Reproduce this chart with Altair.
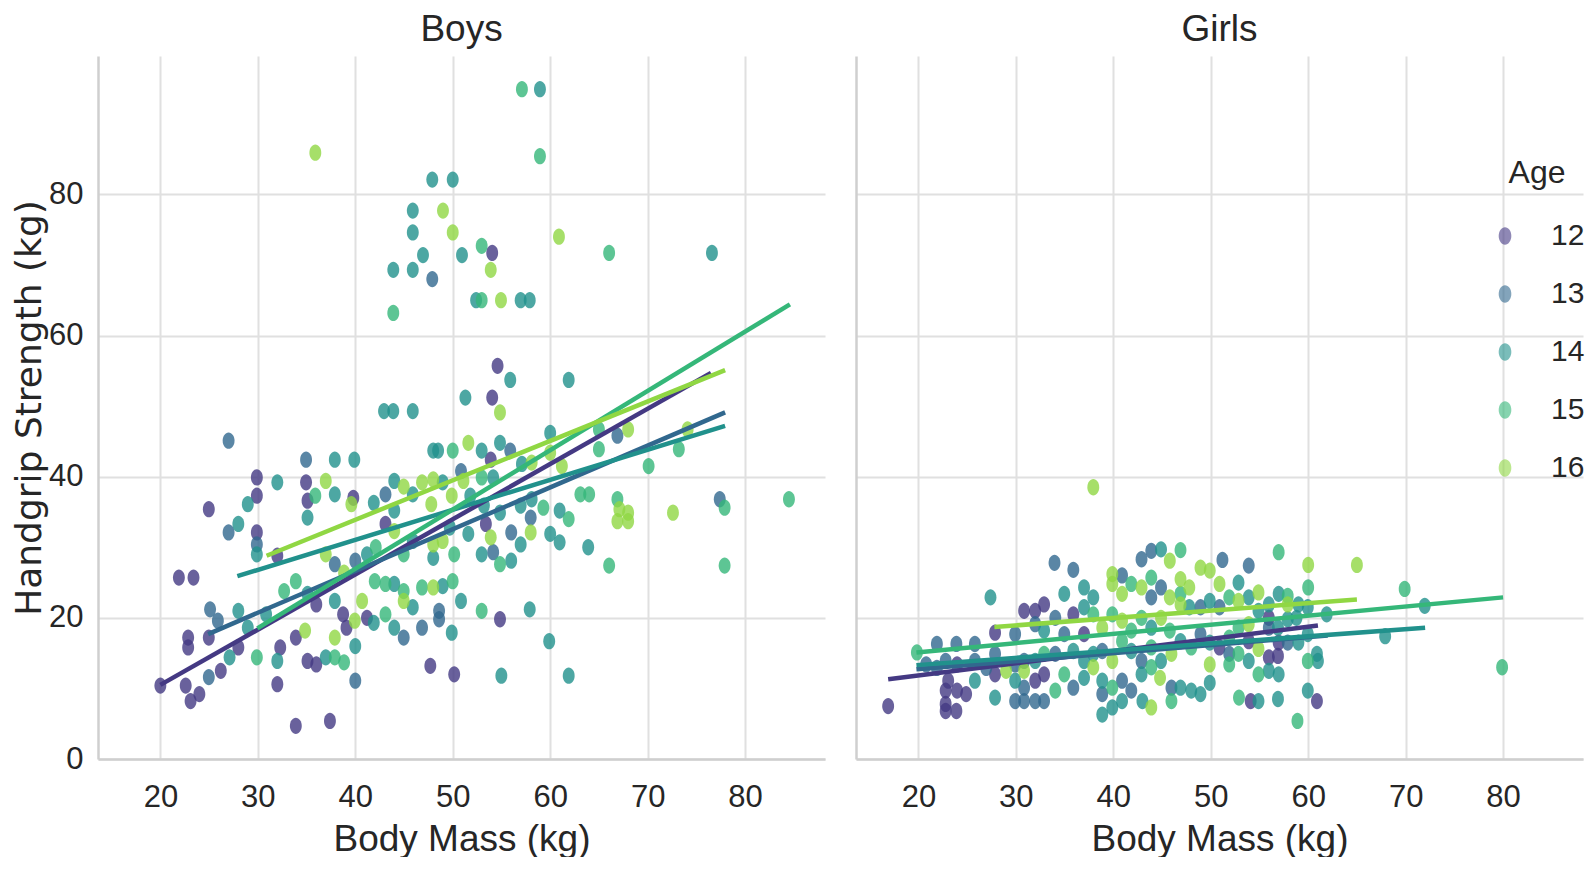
import altair as alt
import pandas as pd

AGES = [12, 13, 14, 15, 16]
PALETTE = ["#443983", "#31688e", "#21918c", "#35b779", "#90d743"]
X_TICKS = [20, 30, 40, 50, 60, 70, 80]
Y_TICKS = [0, 20, 40, 60, 80]
PANELS = ["Boys", "Girls"]

# ---- scatter points: [body mass, handgrip] per age ----
boys_12 = [[54.05,71.7],[54.6,55.7],[54.05,51.2],[53.9,42.4],[29.9,39.9],[34.95,39.2],[29.9,37.3],[39.8,37.0],
           [35.1,36.6],[24.97,35.4],[29.9,32.1],[32.0,28.8],[43.1,33.3],[53.4,33.3],[21.9,25.7],[23.4,25.7],
           [36.0,21.9],[38.75,20.5],[41.2,20.0],[54.85,19.8],[39.1,18.6],[35.1,13.9],[36.0,13.4],[33.9,17.2],
           [32.3,15.8],[32.0,10.6],[28.0,15.8],[26.2,12.5],[22.85,17.2],[22.85,15.8],[24.97,17.2],[20.0,10.4],
           [22.6,10.4],[23.1,8.2],[24.0,9.2],[33.9,4.7],[37.4,5.4],[47.7,13.2],[50.15,12.0]]
boys_13 = [[47.9,68.0],[27.0,45.1],[66.9,45.8],[55.9,43.7],[34.95,42.4],[50.85,40.8],[43.1,37.5],[77.4,36.8],
           [27.0,32.1],[29.9,30.4],[37.9,27.6],[40.0,28.1],[54.15,29.3],[56.0,32.1],[58.0,34.2],[25.1,21.2],
           [25.9,19.6],[48.6,19.8],[46.85,18.6],[44.97,17.2],[24.97,11.6],[40.0,11.1],[48.6,21.0]]
boys_14 = [[58.95,94.9],[47.9,82.1],[50.0,82.1],[45.9,77.7],[45.9,74.6],[46.95,71.4],[50.95,71.4],[76.6,71.7],
           [43.9,69.3],[45.9,69.3],[52.4,65.0],[56.97,65.0],[57.9,65.0],[55.9,53.7],[61.9,53.7],[51.3,51.2],
           [42.95,49.3],[43.9,49.3],[45.9,49.3],[60.0,46.2],[48.0,43.7],[48.5,43.7],[52.97,43.7],[54.85,44.8],
           [37.9,42.4],[39.9,42.4],[32.0,39.2],[44.0,39.4],[48.97,39.2],[54.15,39.9],[57.1,41.8],[28.97,36.1],
           [37.9,37.5],[41.9,36.3],[44.0,35.2],[45.9,37.5],[51.8,37.3],[53.2,35.9],[54.85,34.9],[56.97,35.9],
           [58.1,36.8],[60.97,35.2],[63.9,30.0],[28.0,33.3],[29.9,29.0],[35.1,34.2],[41.2,29.0],[45.9,30.9],
           [48.0,28.5],[49.7,32.8],[51.6,31.9],[52.97,29.0],[56.0,28.1],[56.97,30.4],[60.0,31.9],[60.97,30.7],
           [28.0,21.0],[28.97,18.6],[30.85,20.5],[35.1,23.4],[37.9,22.4],[44.0,24.8],[45.9,21.5],[48.97,24.5],
           [50.85,22.4],[57.9,21.2],[44.0,18.6],[41.9,19.3],[40.0,16.0],[36.97,14.4],[32.0,13.9],[27.1,14.4],
           [54.99,11.8],[61.9,11.8],[59.9,16.7],[49.9,17.9]]
boys_15 = [[57.1,94.9],[58.95,85.4],[52.97,72.7],[66.05,71.7],[52.97,65.0],[43.9,63.2],[65.0,46.7],[65.0,43.9],
           [73.2,43.9],[70.1,41.5],[50.0,43.7],[52.97,39.9],[35.9,37.3],[59.3,35.6],[61.9,34.0],[63.1,37.5],
           [64.0,37.5],[66.9,36.8],[77.9,35.6],[84.5,36.8],[77.9,27.4],[66.05,27.4],[42.1,30.0],[44.97,29.0],
           [50.15,29.0],[54.85,27.6],[32.7,23.8],[33.9,25.2],[42.0,25.2],[43.1,24.8],[44.97,23.8],[46.85,24.3],
           [49.99,25.2],[52.97,21.0],[43.1,20.5],[37.9,14.4],[38.85,13.7],[29.9,14.4]]
boys_16 = [[35.9,85.9],[49.0,77.7],[50.0,74.6],[60.9,74.0],[53.9,69.3],[54.95,65.0],[54.85,49.1],[68.0,46.7],
           [74.1,46.7],[51.6,44.8],[60.0,43.4],[61.2,41.5],[36.97,39.4],[44.97,38.6],[46.85,39.2],[48.0,39.6],
           [51.1,39.4],[58.1,42.0],[39.6,36.1],[47.8,36.1],[49.9,37.3],[67.1,35.4],[68.0,34.9],[66.9,33.7],
           [68.0,33.7],[72.6,34.9],[36.97,29.0],[38.85,26.4],[44.0,32.3],[48.0,30.4],[48.97,30.9],[53.9,31.4],
           [58.0,32.1],[39.95,19.6],[40.7,22.4],[44.97,22.4],[48.0,24.3],[37.9,17.2],[34.85,18.2]]

girls_12 = [[30.85,21.0],[31.99,21.0],[32.9,21.9],[35.9,20.5],[37.0,17.7],[27.87,17.9],[23.97,13.4],[27.87,12.0],
            [31.99,11.1],[32.9,12.0],[24.9,9.2],[23.97,9.7],[22.8,9.7],[23.06,11.1],[22.8,7.8],[23.9,6.8],
            [22.8,6.8],[16.9,7.5],[53.9,16.7],[50.9,15.8],[55.96,20.0],[56.97,16.5],[55.96,14.4],[56.9,14.6],
            [54.1,8.2],[60.9,8.2]]
girls_13 = [[53.9,27.4],[51.2,28.2],[43.9,29.5],[42.9,28.3],[33.97,27.8],[35.9,26.8],[40.9,26.0],[43.9,22.9],
            [44.9,24.3],[48.95,21.5],[50.9,21.5],[55.96,18.6],[57.9,16.5],[48.95,17.7],[51.9,14.9],[45.97,10.1],
            [41.85,9.7],[38.87,9.2],[35.9,10.1],[32.9,8.2],[31.99,8.2],[30.85,8.2],[29.93,8.2],[30.85,10.1],
            [21.9,16.3],[23.9,16.3],[25.8,16.3],[27.87,14.9],[25.8,13.9],[22.8,13.9],[21.9,12.9],[20.8,13.4],
            [29.93,17.7],[31.99,19.1],[34.05,20.0],[34.97,17.7],[38.87,15.3],[42.9,13.9],[34.05,14.9],[30.85,13.9],
            [29.93,13.4],[26.96,12.9],[40.9,11.1]]
girls_14 = [[44.9,29.7],[27.4,22.9],[52.85,25.0],[56.97,23.4],[59.0,21.9],[61.9,20.5],[61.0,13.9],[59.96,9.7],
            [56.9,8.5],[54.9,8.2],[55.96,12.5],[56.97,12.0],[49.9,10.8],[48.95,9.2],[48.0,9.7],[46.9,10.1],
            [42.99,8.2],[40.9,8.2],[39.9,7.3],[38.87,6.3],[37.0,11.5],[29.93,11.1],[27.87,8.7],[25.8,11.1],
            [32.9,18.2],[34.97,23.4],[37.0,24.3],[37.0,21.5],[37.95,22.9],[47.8,21.5],[49.9,22.4],[53.9,22.9],
            [54.9,21.0],[57.9,19.8],[58.8,20.0],[59.96,21.5],[59.96,17.7],[59.0,16.5],[53.9,13.9],[49.9,16.5],
            [46.9,16.7],[44.9,13.9],[41.85,15.3],[37.95,14.9],[37.0,13.9],[35.9,15.3],[31.99,13.9],[43.9,18.6],
            [38.87,11.1],[42.9,12.0],[60.9,14.9],[56.9,18.6],[55.96,21.9],[71.96,21.7],[67.9,17.4]]
girls_15 = [[69.9,24.1],[79.9,13.0],[60.0,24.3],[56.97,29.3],[46.9,29.6],[57.9,23.1],[59.96,13.9],[58.9,5.4],
            [52.9,8.7],[51.9,13.4],[45.97,8.2],[34.97,12.0],[34.05,9.7],[19.85,15.1],[37.95,20.5],[41.85,24.8],
            [43.9,25.7],[46.9,23.4],[51.9,22.9],[52.85,14.9],[48.0,15.8],[43.9,15.8],[40.9,16.7],[32.9,14.9],
            [39.9,20.5],[41.85,18.2],[42.9,20.0],[45.8,18.2],[39.9,10.1],[43.9,13.0],[54.9,12.0],[51.9,17.2],
            [52.85,18.6]]
girls_16 = [[37.95,38.5],[65.0,27.5],[60.0,27.5],[45.8,28.1],[48.95,27.1],[49.9,26.7],[50.9,24.8],[47.8,24.3],
            [46.9,25.5],[54.9,23.6],[54.9,15.6],[49.9,13.4],[44.8,11.5],[43.9,7.3],[37.95,13.0],[30.85,12.5],
            [38.87,18.6],[39.9,26.2],[39.9,24.8],[40.9,23.4],[42.9,24.3],[45.8,22.9],[46.9,21.9],[52.85,22.4],
            [45.97,14.9],[39.9,13.9],[29.0,12.5],[40.9,19.6],[44.9,20.0],[53.9,19.1],[57.9,21.9]]

# ---- fitted regression lines, per age 12..16 ----
boys_line_start_mass = [20.0, 24.9, 27.9, 29.95, 30.9]
boys_line_start_grip = [10.5, 17.7, 25.9, 18.5, 28.8]
boys_line_end_mass = [76.5, 77.95, 77.95, 84.6, 77.95]
boys_line_end_grip = [54.7, 49.1, 47.2, 64.4, 55.1]

girls_line_start_mass = [16.9, 19.8, 19.8, 19.8, 27.8]
girls_line_start_grip = [11.3, 12.7, 13.3, 15.1, 18.7]
girls_line_end_mass = [61.0, 62.0, 72.0, 80.0, 65.0]
girls_line_end_grip = [18.9, 17.5, 18.6, 22.9, 22.6]


def points_frame(groups):
    rows = []
    for age, pts in zip(AGES, groups):
        for m, g in pts:
            rows.append({"mass": m, "grip": g, "age": age})
    return pd.DataFrame(rows)


def lines_frame(sm, sg, em, eg):
    rows = []
    for i, age in enumerate(AGES):
        rows.append({"mass": sm[i], "grip": sg[i], "age": age, "order": 0})
        rows.append({"mass": em[i], "grip": eg[i], "age": age, "order": 1})
    return pd.DataFrame(rows)


boys_pts = points_frame([boys_12, boys_13, boys_14, boys_15, boys_16])
girls_pts = points_frame([girls_12, girls_13, girls_14, girls_15, girls_16])
boys_lines = lines_frame(boys_line_start_mass, boys_line_start_grip, boys_line_end_mass, boys_line_end_grip)
girls_lines = lines_frame(girls_line_start_mass, girls_line_start_grip, girls_line_end_mass, girls_line_end_grip)

NARROW = "Liberation Sans, DejaVu Sans"
TEXT = "#262626"
ELLIPSE = ("M0,-1 C0.403,-1 0.73,-0.552 0.73,0 C0.73,0.552 0.403,1 0,1 "
           "C-0.403,1 -0.73,0.552 -0.73,0 C-0.73,-0.552 -0.403,-1 0,-1 Z")
W = 727
H = 703


def panel(title, pts_df, lines_df, first):
    x = alt.X("mass:Q", scale=alt.Scale(domain=[13.6, 88.2], nice=False, zero=False),
              axis=alt.Axis(values=X_TICKS, title="Body Mass (kg)", labelPadding=23, titlePadding=9))
    if first:
        yaxis = alt.Axis(values=Y_TICKS, title="Handgrip Strength (kg)", titleFont="DejaVu Sans",
                         titleFontSize=36, titlePadding=0, labelPadding=15)
    else:
        yaxis = alt.Axis(values=Y_TICKS, labels=False, ticks=False, title=None)
    y = alt.Y("grip:Q", scale=alt.Scale(domain=[0, 99.6], nice=False, zero=False), axis=yaxis)
    cscale = alt.Scale(domain=AGES, range=PALETTE)
    if first:
        legend = None
    else:
        legend = alt.Legend(title="Age", orient="none", legendX=634, legendY=102, padding=0,
                            titleFont=NARROW, titleFontSize=32, titleFontWeight="normal", titleColor=TEXT,
                            titleAnchor="middle",
                            labelFont=NARROW, labelFontSize=30, labelColor=TEXT,
                            symbolType=ELLIPSE, symbolSize=300, symbolOpacity=0.6, symbolStrokeWidth=0,
                            rowPadding=28, titlePadding=31, labelOffset=31)
    pts = alt.Chart(pts_df).mark_point(shape=ELLIPSE, filled=True, size=265, opacity=0.8, strokeWidth=0).encode(
        x=x, y=y, color=alt.Color("age:O", scale=cscale, legend=legend))
    lines = alt.Chart(lines_df).mark_line(strokeWidth=4.5).encode(
        x=x, y=y, color=alt.Color("age:O", scale=cscale, legend=None), detail="age:O", order="order:Q")
    return alt.layer(pts, lines).properties(
        width=W, height=H,
        title=alt.TitleParams(title, fontSize=37, font=NARROW, fontWeight="normal", color=TEXT, offset=7))


left = panel(PANELS[0], boys_pts, boys_lines, True)
right = panel(PANELS[1], girls_pts, girls_lines, False)

chart = alt.hconcat(left, right, spacing=31).resolve_scale(color="independent").resolve_legend(
    color="independent"
).properties(
    padding={"left": 3, "top": 3, "right": 0, "bottom": 0}
).configure(font=NARROW).configure_view(stroke=None).configure_axis(
    grid=True, gridColor="#e0e0e0", gridWidth=2, domainColor="#cfcfcf", domainWidth=2.5,
    ticks=False, labelFont=NARROW, labelFontSize=31, labelColor=TEXT,
    titleFont=NARROW, titleFontSize=37, titleFontWeight="normal", titleColor=TEXT
)

chart.save("out.html", embed_options={"renderer": "svg", "actions": False})
